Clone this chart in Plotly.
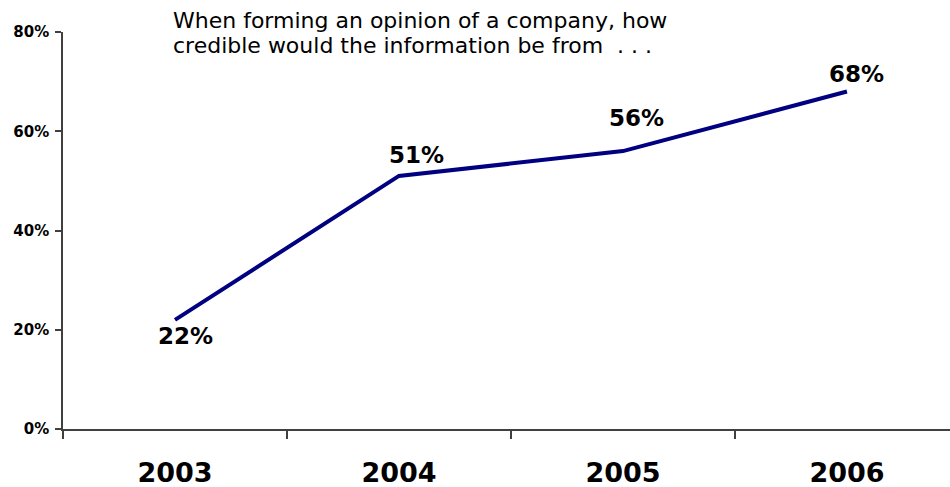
import plotly.graph_objects as go

years = ["2003", "2004", "2005", "2006"]
values = [22, 51, 56, 68]
y_ticks = [0, 20, 40, 60, 80]
y_tick_labels = ["0%", "20%", "40%", "60%", "80%"]
title_lines = ["When forming an opinion of a company, how",
               "credible would the information be from  . . ."]

# label offsets (px) for data labels, styling only
label_dx = [11, 18, 14, 10]
label_dy = [-16, 21, 33, 18]

FONT = "DejaVu Sans, Arial"
xpos = list(range(len(years)))

fig = go.Figure()
fig.add_trace(go.Scatter(
    x=xpos, y=values, mode="lines",
    line=dict(color="#000080", width=4),
    hoverinfo="skip", showlegend=False,
))

for i, v in enumerate(values):
    fig.add_annotation(
        x=xpos[i], y=v, text=f"{v}%", showarrow=False,
        xshift=label_dx[i], yshift=label_dy[i],
        font=dict(family=FONT, size=23, color="black", weight="bold"),
    )

for j, line in enumerate(title_lines):
    fig.add_annotation(
        xref="paper", yref="paper", x=(171 - 63) / 887, y=1.0,
        xanchor="left", yanchor="middle", align="left", showarrow=False,
        yshift=32 - 20 - 25 * j,
        text=line,
        font=dict(family=FONT, size=22, color="black"),
    )

fig.update_layout(
    width=950, height=487,
    margin=dict(l=63, r=0, t=32, b=58),
    plot_bgcolor="white", paper_bgcolor="white",
    xaxis=dict(
        range=[-0.5, 3.46], automargin=False,
        tickvals=xpos, ticktext=years,
        ticks="", showgrid=False, zeroline=False,
        showline=True, linecolor="#404040", linewidth=1.5,
        tickfont=dict(family=FONT, size=27, color="black", weight="bold"),
        ticklabelstandoff=19,
        minor=dict(tickvals=[-0.5, 0.5, 1.5, 2.5, 3.5], ticks="outside",
                   ticklen=8, tickcolor="#404040", tickwidth=1.5, showgrid=False),
        fixedrange=True,
    ),
    yaxis=dict(
        range=[0, 80], automargin=False,
        tickvals=y_ticks, ticktext=y_tick_labels,
        ticks="outside", ticklen=6, tickcolor="#404040", tickwidth=1.5,
        showgrid=False, zeroline=False,
        showline=True, linecolor="#404040", linewidth=1.5,
        tickfont=dict(family=FONT, size=15, color="black", weight="bold"),
        ticklabelstandoff=3,
        fixedrange=True,
    ),
)

fig.write_html("out.html", config={"displayModeBar": False},
               post_script="document.body.style.margin='0';")
